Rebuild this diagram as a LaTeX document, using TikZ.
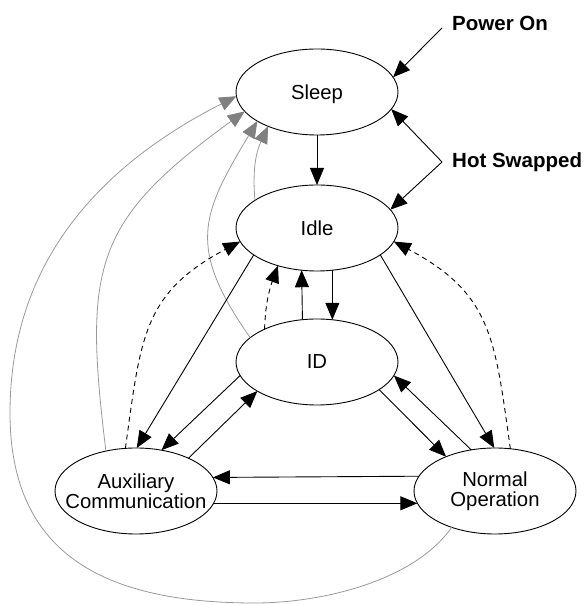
\documentclass[tikz,border=0pt]{standalone}
\usepackage{fontspec}
\setmainfont{Liberation Sans}
\usetikzlibrary{arrows.meta,shapes.geometric}
\begin{document}
\begin{tikzpicture}[x=1pt,y=1pt,
  state/.style={draw, ellipse, line width=0.9pt, minimum width=162pt, minimum height=86pt,
    inner xsep=-20pt, inner ysep=0pt, outer sep=0pt, align=center,
    font=\fontsize{20.3}{20}\selectfont},
  single/.style={text depth=0pt},
  lbl/.style={anchor=base west, inner sep=0pt, font=\fontsize{20.5}{22}\selectfont\bfseries},
  arr/.style={line width=0.9pt, -{Triangle[length=17pt,width=14pt]}},
  darr/.style={arr, dash pattern=on 5pt off 4pt},
  garr/.style={line width=0.8pt, draw=black!40, -{Triangle[length=17pt,width=14pt,color=black!50,fill=black!50]}},
]
\useasboundingbox (0,0) rectangle (585,605);

% states
\node[state, single] (Sleep) at (317,513) {Sleep};
\node[state, single] (Idle) at (317,377) {Idle};
\node[state, single] (ID) at (317,243) {ID};
\node[state] (Aux) at (136,114) {Auxiliary\\Communication};
\node[state] (Normal) at (495,114) {Normal\\Operation};

% labels
\node[lbl] (pw) at (452,574) {Power On};
\node[lbl] (hs) at (452,437) {Hot Swapped};
\coordinate (pwstart) at (442,577);
\coordinate (hsv) at (442,443);
\coordinate (g1) at (255,2);
\coordinate (g2) at (10,192);

% power on / hot swapped
\draw[arr] (pwstart) -- (Sleep.11);
\draw[arr] (hsv) -- (Sleep.347);
\draw[arr] (hsv) -- (Idle.14);

% gray return arrows to Sleep
\draw[garr] (Normal.220) to[out=235,in=0,looseness=0.8] (g1)
  to[out=180,in=270,looseness=1.2] (g2) to[out=90,in=207] (Sleep.183);
\draw[garr] (Aux.127) to[out=97,in=216,looseness=1.3] (Sleep.195);
\draw[garr] (ID.160) to[out=125,in=239,looseness=1.3] (Sleep.206);
\draw[garr] (Idle.156) to[out=95,in=245] (Sleep.215);

% main transitions
\draw[arr] (Sleep.south) -- (Idle.north);
\draw[arr] (ID.109.5) -- (Idle.250);
\draw[arr] (Idle.290) -- (ID.70.5);
\draw[darr] (ID.148) to[out=88,in=250] (Idle.224);
\draw[darr] (Aux.104) to[out=82,in=208,looseness=1.2] (Idle.190);
\draw[darr] (Normal.70) to[out=98,in=-28,looseness=1.2] (Idle.350);
\draw[arr] (Idle.203) -- (Aux.89);
\draw[arr] (Idle.337) -- (Normal.91);
\draw[arr] (ID.190) -- (Aux.58);
\draw[arr] (Aux.32) -- (ID.206);
\draw[arr] (ID.336) -- (Normal.145);
\draw[arr] (Normal.120) -- (ID.350);
\draw[arr] (Normal.169.6) -- (Aux.10.4);
\draw[arr] (Aux.-9.6) -- (Normal.189.6);
\end{tikzpicture}
\end{document}
